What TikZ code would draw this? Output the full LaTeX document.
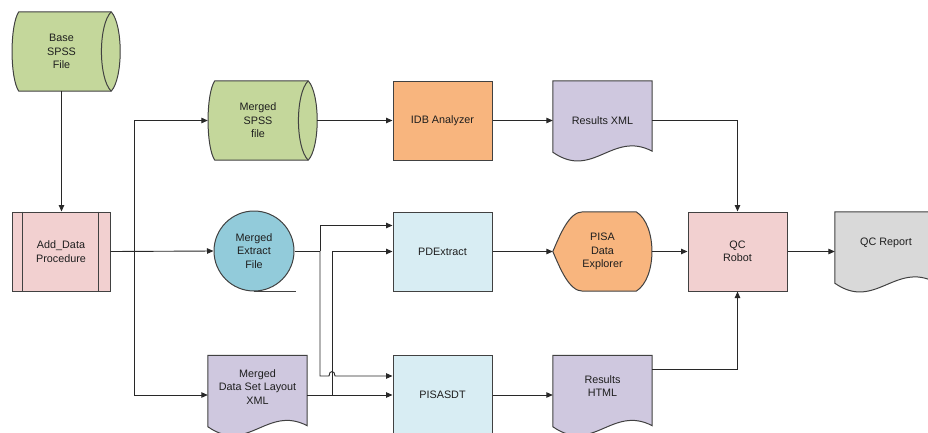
\documentclass[tikz,border=0pt]{standalone}
\usepackage{fontspec}
\setmainfont{Liberation Sans}
\usetikzlibrary{arrows.meta,calc}
\pgfdeclarelayer{background}
\pgfsetlayers{background,main}
\definecolor{cgreen}{RGB}{196,215,155}
\definecolor{cpink}{RGB}{242,208,208}
\definecolor{cblue}{RGB}{146,203,218}
\definecolor{clblue}{RGB}{216,237,243}
\definecolor{corange}{RGB}{248,181,126}
\definecolor{cpurple}{RGB}{207,200,223}
\definecolor{cgray}{RGB}{217,217,217}
\definecolor{lc}{RGB}{40,40,40}
\definecolor{bc}{RGB}{65,65,65}
\definecolor{txt}{RGB}{30,30,30}
\newcommand\storeddata[2]{%
  \path[shapeline,fill=#2] ($(#1.north west)+(7,0)$) -- (#1.north east)
    .. controls ($(#1.north east)+(12,13)$) and ($(#1.south east)+(12,-13)$) .. (#1.south east)
    -- ($(#1.south west)+(7,0)$)
    .. controls ($(#1.south west)+(-2,-13)$) and ($(#1.north west)+(-2,13)$) .. cycle;
  \draw[shapeline] (#1.north east)
    .. controls ($(#1.north east)+(-13,13)$) and ($(#1.south east)+(-13,-13)$) .. (#1.south east);}
\newcommand\docshape[2]{%
  \path[shapeline,fill=#2] (#1.north west) -- (#1.north east) -- ($(#1.south east)+(0,-9)$)
    .. controls ($(#1.south east)+(-40,-30)$) and ($(#1.south west)+(40,20)$) .. ($(#1.south west)+(0,-8)$)
    -- cycle;}
\newcommand\displayshape[2]{%
  \path[shapeline,fill=#2] ($(#1.north west)+(30,0)$) -- ($(#1.north east)+(-16,0)$)
    .. controls ($(#1.north east)+(5,13)$) and ($(#1.south east)+(5,-13)$) .. ($(#1.south east)+(-16,0)$)
    -- ($(#1.south west)+(30,0)$)
    .. controls ($(#1.south west)+(16,0)$) and ($(#1.west)+(7,16)$) .. (#1.west)
    .. controls ($(#1.west)+(7,-16)$) and ($(#1.north west)+(16,0)$) .. cycle;}
\begin{document}
\begin{tikzpicture}[x=1pt,y=-1pt,
  font=\fontsize{10.8}{13.5}\selectfont,
  ghost/.style={rectangle, minimum width=99pt, minimum height=79pt, inner sep=0pt, align=center, text=txt},
  boxn/.style={ghost, draw=bc, line width=1pt},
  lbl/.style={inner sep=0pt, align=center, text=txt},
  shapeline/.style={draw=bc, line width=1pt},
  line/.style={draw=lc, line width=0.9pt},
  conn/.style={line, -{Triangle[length=6.5pt,width=5.5pt]}}]
\useasboundingbox (0,0) rectangle (928,432);

% nodes
\node[ghost] (base) at (61.5,51.5) {Base\\SPSS\\File};
\node[boxn, fill=cpink, minimum width=98pt] (add) at (61,251.5) {Add\_Data\\Procedure};
\node[ghost, minimum width=100pt] (mspss) at (258,120.5) {Merged\\SPSS\\file};
\node[circle, draw=bc, line width=1pt, fill=cblue, minimum size=80pt, inner sep=0pt, align=center, text=txt] (mext) at (254,251) {Merged\\Extract\\File};
\node[ghost] (mxml) at (257.5,395) {};
\node[lbl] (mxmlt) at (257.5,387) {Merged\\Data Set Layout\\XML};
\node[boxn, fill=corange] (idb) at (442.5,120.5) {IDB Analyzer};
\node[boxn, fill=clblue] (pdx) at (442.5,251.5) {PDExtract};
\node[boxn, fill=clblue] (psdt) at (442.5,395) {PISASDT};
\node[ghost] (rxml) at (602.5,120.5) {Results XML};
\node[ghost] (pde) at (602.5,251.5) {PISA\\Data\\Explorer};
\node[ghost] (rhtml) at (602.5,395) {};
\node[lbl] (rhtmlt) at (602.5,386) {Results\\HTML};
\node[boxn, fill=cpink] (qcr) at (737.5,251.5) {QC\\Robot};
\node[ghost, minimum width=100pt] (qcrep) at (885,251.5) {};
\node[lbl] (qcrept) at (886,243) {QC Report};

% shapes behind text
\begin{pgfonlayer}{background}
\storeddata{base}{cgreen}
\storeddata{mspss}{cgreen}
\docshape{mxml}{cpurple}
\docshape{rxml}{cpurple}
\docshape{rhtml}{cpurple}
\docshape{qcrep}{cgray}
\displayshape{pde}{corange}
\end{pgfonlayer}

% predefined process bars and tape tail
\draw[shapeline] ($(add.north west)+(11,0)$) -- ($(add.south west)+(11,0)$);
\draw[shapeline] ($(add.north east)+(-12,0)$) -- ($(add.south east)+(-12,0)$);
\draw[shapeline] (mext.south) -- ++(42,0);

% connectors
\coordinate (j1) at (134,251);
\coordinate (j2) at (320,251);
\coordinate (j3) at (332,395);
\coordinate (h1) at (329,376);
\coordinate (h2) at (335,376);
\draw[conn] (base.south) -- (base.south |- add.north);
\draw[conn] (add.east) -- (mext.west);
\draw[conn] (j1) |- (mspss.west);
\draw[conn] (j1) |- (mxml.west);
\draw[conn] ([xshift=9pt]mspss.east) -- (idb.west);
\draw[conn] (idb.east) -- (rxml.west);
\draw[conn] (rxml.east) -| (qcr.north);
\draw[line] (mext.east) -- (j2);
\draw[conn] (j2) |- ([yshift=26pt]pdx.west);
\draw[conn] (j2) |- (h1) .. controls ($(h1)+(0,-6)$) and ($(h2)+(0,-6)$) .. (h2) -- ([yshift=19pt]psdt.west);
\draw[conn] (mxml.east) -- (psdt.west);
\draw[conn] (j3) |- (pdx.west);
\draw[conn] (pdx.east) -- (pde.west);
\draw[conn] (psdt.east) -- (rhtml.west);
\draw[conn] (pde.east) -- (qcr.west);
\draw[conn] ([yshift=26pt]rhtml.east) -| (qcr.south);
\draw[conn] (qcr.east) -- (qcrep.west);
\end{tikzpicture}
\end{document}
